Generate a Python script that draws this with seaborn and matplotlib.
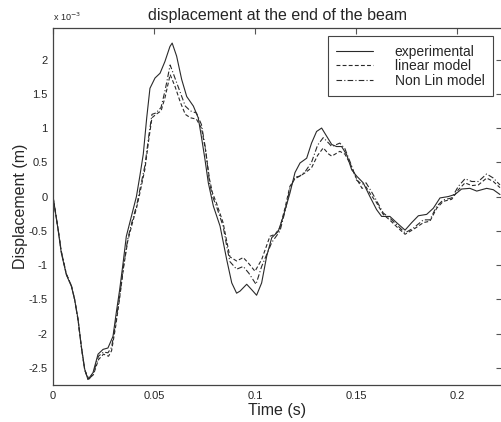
import matplotlib
matplotlib.use("Agg")
import matplotlib.pyplot as plt
import seaborn as sns
import numpy as np
from matplotlib.ticker import FuncFormatter

sns.set_style("white")
plt.rcParams["font.family"] = ["Liberation Sans", "DejaVu Sans"]
plt.rcParams["axes.unicode_minus"] = False

# displacement values in units of 1e-3 m
t_exp = [0, 0.0025, 0.0041, 0.0066, 0.0091, 0.0107, 0.0124, 0.014, 0.0157, 0.0173,
         0.0198, 0.0223, 0.0248, 0.0272, 0.0297, 0.0313, 0.033, 0.0347, 0.0363, 0.0388,
         0.0413, 0.043, 0.0447, 0.0464, 0.048, 0.0505, 0.053, 0.0554, 0.0579, 0.059,
         0.0612, 0.0637, 0.0662, 0.0695, 0.0719, 0.0736, 0.0752, 0.0769, 0.0794, 0.0827,
         0.086, 0.0885, 0.0909, 0.0926, 0.0959, 0.0984, 0.1008, 0.1033, 0.1058, 0.1083,
         0.1115, 0.114, 0.1173, 0.1198, 0.1223, 0.1256, 0.128, 0.1305, 0.133, 0.1355,
         0.138, 0.1404, 0.1429, 0.1454, 0.1479, 0.1503, 0.1536, 0.1569, 0.1602, 0.1627,
         0.1668, 0.1701, 0.1743, 0.1776, 0.1809, 0.185, 0.1883, 0.1916, 0.1957, 0.199,
         0.2023, 0.2064, 0.2098, 0.2147, 0.218, 0.2213]
d_exp = [0, -0.48, -0.82, -1.14, -1.31, -1.50, -1.79, -2.18, -2.52, -2.67,
         -2.57, -2.30, -2.23, -2.21, -2.04, -1.70, -1.36, -0.97, -0.58, -0.29,
         0.0, 0.30, 0.62, 1.15, 1.58, 1.73, 1.80, 1.97, 2.19, 2.24,
         2.05, 1.71, 1.46, 1.32, 1.15, 0.85, 0.55, 0.20, -0.14, -0.43,
         -0.92, -1.26, -1.41, -1.38, -1.28, -1.36, -1.44, -1.26, -0.87, -0.60,
         -0.51, -0.29, 0.05, 0.35, 0.49, 0.56, 0.78, 0.95, 1.00, 0.88,
         0.76, 0.73, 0.73, 0.61, 0.39, 0.30, 0.20, 0.00, -0.19, -0.29,
         -0.29, -0.38, -0.49, -0.38, -0.28, -0.26, -0.17, -0.02, 0.00, 0.03,
         0.11, 0.12, 0.08, 0.12, 0.10, 0.03]

t_lin = [0, 0.0025, 0.0041, 0.0066, 0.0091, 0.0107, 0.0124, 0.014, 0.0157, 0.0177,
         0.020, 0.0225, 0.025, 0.0275, 0.029, 0.031, 0.033, 0.035, 0.037, 0.039,
         0.0415, 0.043, 0.0455, 0.0475, 0.049, 0.051, 0.0535, 0.0555, 0.058, 0.0605,
         0.063, 0.0655, 0.068, 0.071, 0.0735, 0.0755, 0.0775, 0.079, 0.081, 0.0842,
         0.086, 0.0876, 0.0909, 0.0942, 0.097, 0.100, 0.1033, 0.1074, 0.110, 0.1124,
         0.115, 0.1173, 0.1198, 0.1223, 0.125, 0.128, 0.131, 0.1338, 0.1365, 0.138,
         0.142, 0.1445, 0.1473, 0.1503, 0.153, 0.155, 0.1575, 0.160, 0.1635, 0.167,
         0.1705, 0.1743, 0.1784, 0.1834, 0.1866, 0.190, 0.1932, 0.1974, 0.2007, 0.204,
         0.2073, 0.2106, 0.2147, 0.218, 0.2213]
d_lin = [0, -0.47, -0.80, -1.13, -1.30, -1.50, -1.80, -2.19, -2.53, -2.66,
         -2.60, -2.38, -2.30, -2.33, -2.25, -1.90, -1.48, -1.02, -0.65, -0.42,
         -0.15, 0.05, 0.40, 0.85, 1.15, 1.20, 1.25, 1.45, 1.78, 1.60,
         1.38, 1.20, 1.15, 1.13, 1.00, 0.68, 0.25, 0.05, -0.10, -0.38,
         -0.65, -0.88, -0.94, -0.89, -0.98, -1.09, -0.92, -0.58, -0.55, -0.45,
         -0.15, 0.15, 0.26, 0.30, 0.35, 0.42, 0.60, 0.71, 0.62, 0.59,
         0.66, 0.62, 0.47, 0.26, 0.12, 0.14, 0.02, -0.08, -0.26, -0.35,
         -0.45, -0.55, -0.48, -0.38, -0.36, -0.17, -0.07, -0.04, 0.10, 0.20,
         0.16, 0.17, 0.27, 0.22, 0.13]

t_nl = [0, 0.0025, 0.0041, 0.0066, 0.0091, 0.0107, 0.0124, 0.014, 0.0157, 0.0175,
        0.020, 0.0225, 0.025, 0.0272, 0.029, 0.031, 0.033, 0.035, 0.037, 0.039,
        0.0415, 0.043, 0.0455, 0.0475, 0.049, 0.051, 0.0535, 0.0555, 0.058, 0.0605,
        0.063, 0.0655, 0.068, 0.071, 0.0735, 0.0755, 0.0775, 0.079, 0.081, 0.0842,
        0.086, 0.0876, 0.0909, 0.0942, 0.097, 0.1005, 0.1033, 0.1083, 0.110, 0.1124,
        0.115, 0.1173, 0.1198, 0.1223, 0.125, 0.128, 0.131, 0.1338, 0.1365, 0.138,
        0.142, 0.1445, 0.1473, 0.1503, 0.153, 0.155, 0.1575, 0.160, 0.1635, 0.167,
        0.1705, 0.1743, 0.1784, 0.1834, 0.1866, 0.190, 0.1932, 0.1974, 0.2007, 0.204,
        0.2073, 0.2106, 0.2147, 0.218, 0.2213]
d_nl = [0, -0.47, -0.80, -1.13, -1.30, -1.50, -1.80, -2.19, -2.53, -2.68,
        -2.58, -2.33, -2.27, -2.28, -2.20, -1.85, -1.45, -1.00, -0.62, -0.38,
        -0.12, 0.10, 0.45, 0.90, 1.20, 1.22, 1.30, 1.55, 1.92, 1.72,
        1.52, 1.32, 1.25, 1.22, 1.05, 0.70, 0.20, 0.00, -0.15, -0.43,
        -0.72, -0.95, -1.06, -1.02, -1.12, -1.28, -1.02, -0.67, -0.60, -0.50,
        -0.20, 0.12, 0.28, 0.30, 0.37, 0.50, 0.75, 0.86, 0.78, 0.73,
        0.78, 0.70, 0.49, 0.24, 0.18, 0.20, 0.08, -0.05, -0.24, -0.32,
        -0.42, -0.53, -0.46, -0.34, -0.34, -0.14, -0.05, -0.02, 0.15, 0.26,
        0.22, 0.22, 0.33, 0.27, 0.17]

x_ticks = [0, 0.05, 0.1, 0.15, 0.2]
y_ticks = [-2.5, -2, -1.5, -1, -0.5, 0, 0.5, 1, 1.5, 2]

fig = plt.figure(figsize=(5.02, 4.22), dpi=100)
ax = fig.add_axes([53 / 502, 37 / 422, 449 / 502, 357 / 422])

lc = "#2a2a2a"
sns.lineplot(x=t_exp, y=d_exp, ax=ax, sort=False, color=lc, lw=0.8,
             label="experimental")
sns.lineplot(x=t_lin, y=d_lin, ax=ax, sort=False, color=lc, lw=0.8,
             label="linear model", linestyle=(0, (3.5, 2)))
sns.lineplot(x=t_nl, y=d_nl, ax=ax, sort=False, color=lc, lw=0.8,
             label="Non Lin model", linestyle=(0, (5, 2, 1, 2)))

ax.set_xlim(0, 0.2223)
ax.set_ylim(-2.75, 2.46)
ax.set_xticks(x_ticks)
ax.set_yticks(y_ticks)
fmt = FuncFormatter(lambda v, p: f"{v:g}")
ax.xaxis.set_major_formatter(fmt)
ax.yaxis.set_major_formatter(fmt)
ax.tick_params(direction="in", length=4, width=0.8, labelsize=8, color="#555",
               top=True, right=True, pad=4)
for s in ax.spines.values():
    s.set_color("#444")
    s.set_linewidth(0.9)
    s.set_visible(True)

ax.set_title("displacement at the end of the beam", fontsize=11.5, pad=6)
ax.set_xlabel("Time (s)", fontsize=11.5, labelpad=2)
ax.set_ylabel("Displacement (m)", fontsize=11.5, labelpad=0)
ax.text(0.0, 1.014, "x 10$^{-3}$", transform=ax.transAxes, fontsize=6.5,
        ha="left", va="bottom")

leg = ax.legend(loc="upper right", bbox_to_anchor=(0.98, 0.977), fontsize=10,
                frameon=True, fancybox=False, framealpha=1, edgecolor="#444",
                handlelength=2.6, handletextpad=1.6, labelspacing=0.05,
                borderpad=0.6, borderaxespad=0)
leg.get_frame().set_linewidth(0.8)

fig.savefig("out.png", dpi=100)
